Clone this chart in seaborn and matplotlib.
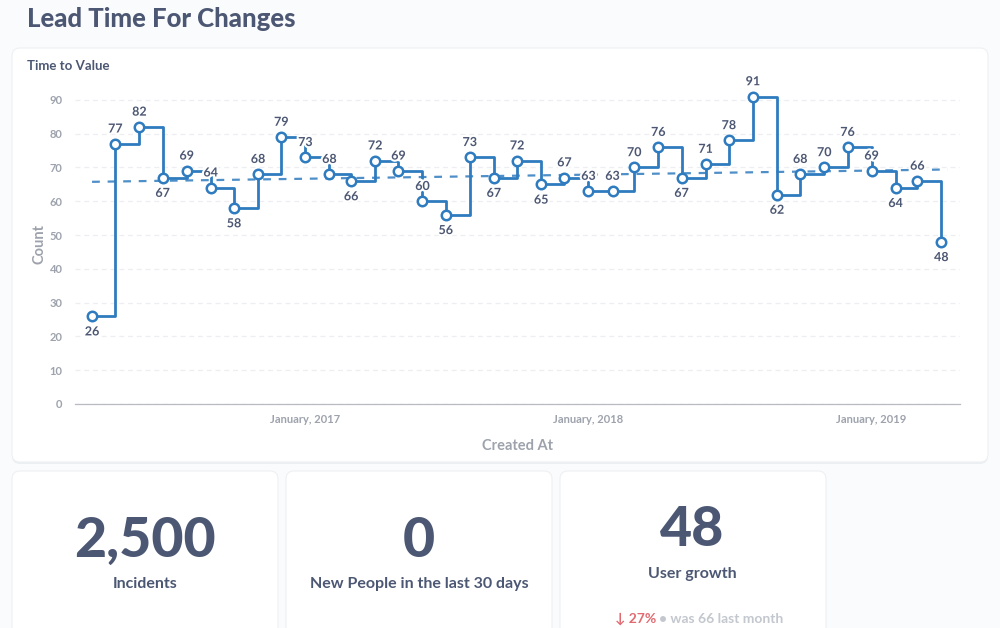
import numpy as np
import pandas as pd
import matplotlib
matplotlib.use("Agg")
import matplotlib.pyplot as plt
import matplotlib.patheffects as pe
from matplotlib.patches import FancyBboxPatch
from matplotlib.transforms import IdentityTransform
import seaborn as sns

# ---------------- data ----------------
months = pd.date_range("2016-04-01", periods=37, freq="MS")
lead_time = [26, 77, 82, 67, 69, 64, 58, 68, 79, 73, 68, 66, 72, 69, 60, 56, 73, 67,
             72, 65, 67, 63, 63, 70, 76, 67, 71, 78, 91, 62, 68, 70, 76, 69, 64, 66, 48]
xtick_dates = pd.to_datetime(["2017-01-01", "2018-01-01", "2019-01-01"])
xtick_labels = ["January, 2017", "January, 2018", "January, 2019"]
ytick_values = list(range(0, 91, 10))

incidents = 2500
new_people = 0
user_growth = 48
user_growth_prev = 66

# ---------------- style ----------------
sns.set_theme(style="white")
plt.rcParams["font.family"] = ["Lato", "DejaVu Sans"]

DARK = "#4C5773"
GRAY = "#9DA2AC"
BLUE = "#2F7BBF"
BG = "#F9FBFC"

W, H = 1000, 628
fig = plt.figure(figsize=(W / 100, H / 100), dpi=100)
fig.patch.set_facecolor(BG)


def card(x0, y0, x1, y1):
    # pixel coordinates from top-left
    shadow = FancyBboxPatch((x0, H - y1 - 2), x1 - x0, y1 - y0,
                            boxstyle="round,pad=0,rounding_size=8",
                            transform=IdentityTransform(), facecolor="#E9ECEF",
                            edgecolor="none", zorder=-3, alpha=0.8)
    box = FancyBboxPatch((x0, H - y1), x1 - x0, y1 - y0,
                         boxstyle="round,pad=0,rounding_size=8",
                         transform=IdentityTransform(), facecolor="white",
                         edgecolor="#EEF0F3", linewidth=0.8, zorder=-2)
    fig.patches.append(shadow)
    fig.patches.append(box)


card(12, 48, 988, 462)
card(12, 471, 278, 660)
card(286, 471, 552, 660)
card(560, 471, 826, 660)


def ftext(x, y, s, **kw):
    fig.text(x / W, 1 - y / H, s, **kw)


ftext(27, 19, "Lead Time For Changes", fontsize=18.5, fontweight=900, color=DARK,
      va="center", ha="left")
ftext(27, 66, "Time to Value", fontsize=9.5, fontweight="bold", color=DARK,
      va="center", ha="left")

# ---------------- chart ----------------
ax = fig.add_axes([75 / W, 1 - 404 / H, 885 / W, 321 / H])
ax.set_facecolor("none")

df = pd.DataFrame({"Created At": months, "Count": lead_time})

# trend line (linear fit)
idx = np.arange(len(lead_time))
slope, intercept = np.polyfit(idx, lead_time, 1)
trend = pd.DataFrame({"Created At": [months[0], months[-1] + pd.Timedelta(days=8)],
                      "Count": [intercept, intercept + slope * (idx[-1] + 8 / 30.4)]})
sns.lineplot(data=trend, x="Created At", y="Count", ax=ax, color=BLUE,
             linestyle=(0, (3.5, 3.5)), linewidth=1.6, alpha=0.85, zorder=2)

sns.lineplot(data=df, x="Created At", y="Count", ax=ax, color=BLUE,
             drawstyle="steps-post", linewidth=2, zorder=3,
             marker="o", markersize=6.8, markerfacecolor="white",
             markeredgecolor=BLUE, markeredgewidth=1.8)

# data labels
for i, (d, v) in enumerate(zip(months, lead_time)):
    neighbours = []
    if i > 0:
        neighbours.append(lead_time[i - 1])
    if i < len(lead_time) - 1:
        neighbours.append(lead_time[i + 1])
    below = all(v < n for n in neighbours)
    ax.annotate(str(v), (d, v), xytext=(0, -11 if below else 11),
                textcoords="offset points", ha="center", va="center",
                fontsize=9, fontweight="bold", color=DARK, zorder=5,
                path_effects=[pe.withStroke(linewidth=3, foreground="white")])

ax.set_xlim(months[0] - pd.Timedelta(days=22), months[-1] + pd.Timedelta(days=24))
ax.set_ylim(0, 95)
ax.set_yticks(ytick_values)
ax.set_yticklabels([str(v) for v in ytick_values])
ax.set_xticks(xtick_dates)
ax.set_xticklabels(xtick_labels)
ax.set_xticks(list(ax.get_xlim()), minor=True)

ax.tick_params(axis="y", length=0, pad=9, labelsize=8, labelcolor=GRAY)
ax.tick_params(axis="x", which="major", length=0, pad=7, labelsize=8, labelcolor=GRAY)
ax.tick_params(axis="x", which="minor", length=5, width=0.8, color="#B8BBC2", direction="out")
for lab in ax.get_xticklabels() + ax.get_yticklabels():
    lab.set_fontweight("bold")

ax.grid(axis="y", color="#ECEEF1", linestyle=(0, (4, 3)), linewidth=0.9)
ax.grid(axis="x", visible=False)
for s in ["top", "right", "left"]:
    ax.spines[s].set_visible(False)
ax.spines["bottom"].set_color("#B8BBC2")
ax.spines["bottom"].set_linewidth(0.9)

ax.set_xlabel("Created At", fontsize=10.5, fontweight="bold", color=GRAY, labelpad=10)
ax.set_ylabel("Count", fontsize=10.5, fontweight="bold", color=GRAY, labelpad=2)

# ---------------- scalar cards ----------------
ftext(145, 541, f"{incidents:,}", fontsize=40, fontweight=900, color=DARK,
      ha="center", va="center")
ftext(145, 584, "Incidents", fontsize=11.5, fontweight="bold", color=DARK,
      ha="center", va="center")

ftext(419, 541, f"{new_people:,}", fontsize=40, fontweight=900, color=DARK,
      ha="center", va="center")
ftext(419, 584, "New People in the last 30 days", fontsize=11.5, fontweight="bold",
      color=DARK, ha="center", va="center")

ftext(692, 530, f"{user_growth:,}", fontsize=40, fontweight=900, color=DARK,
      ha="center", va="center")
ftext(692, 574, "User growth", fontsize=11.5, fontweight="bold", color=DARK,
      ha="center", va="center")

pct = round(abs(user_growth - user_growth_prev) / user_growth_prev * 100)
ftext(656, 619, f"↓ {pct}%", fontsize=10, fontweight="bold", color="#E06A70",
      ha="right", va="center")
ftext(659, 619, f"• was {user_growth_prev} last month", fontsize=10, fontweight="bold",
      color="#C3C7CE", ha="left", va="center")

fig.savefig("out.png", dpi=100, facecolor=BG)
